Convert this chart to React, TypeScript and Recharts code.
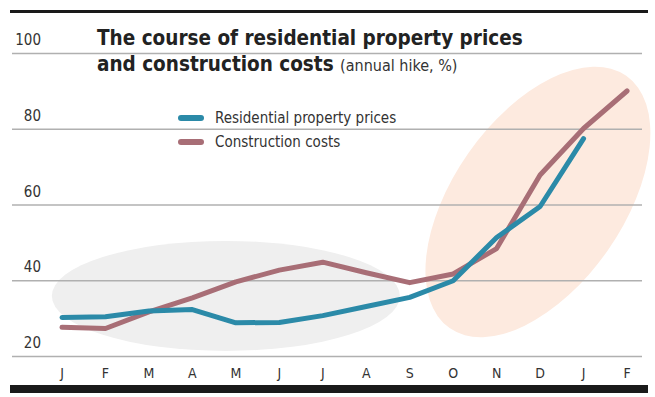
import { LineChart, Line, XAxis, YAxis, ReferenceLine, ReferenceDot } from 'recharts';

const months = ['J', 'F', 'M', 'A', 'M', 'J', 'J', 'A', 'S', 'O', 'N', 'D', 'J', 'F'];
const residential = [30.3, 30.5, 32.0, 32.4, 28.9, 29.0, 30.8, 33.2, 35.6, 40.0, 51.4, 59.6, 77.5, null];
const construction = [27.7, 27.4, 31.8, 35.5, 39.7, 42.8, 44.9, 42.1, 39.5, 41.8, 48.5, 67.9, 80.2, 90.1];
const yTicks = [20, 40, 60, 80, 100];

const series = [
    { key: 'residential', name: 'Residential property prices', color: '#2b8aa8' },
    { key: 'construction', name: 'Construction costs', color: '#a86e76' },
];

const data = months.map((m, i) => ({
    i,
    month: m,
    residential: residential[i],
    construction: construction[i],
}));

const FONT = '"Liberation Sans Narrow", "DejaVu Sans Condensed", "Roboto", sans-serif';

const XTick = ({ x, payload }: any) => (
    <text x={x} y={378} textAnchor="middle" fontSize={14} fill="#333" fontFamily={FONT}>
        {months[payload.value]}
    </text>
);

const YTick = ({ y, payload }: any) => (
    <text x={41} y={y - 8.5} textAnchor="end" fontSize={15} fill="#333" fontFamily={FONT}>
        {payload.value}
    </text>
);

export default function App() {
    return (
        <div style={{ position: 'absolute', left: 0, top: 0, width: 655, height: 397, background: '#fff' }}>
            <div style={{ position: 'absolute', left: 10, top: 10, width: 638, height: 3, background: '#1a1a1a' }} />
            <div style={{ position: 'absolute', left: 10, top: 385, width: 638, height: 8, background: '#1a1a1a' }} />

            <LineChart
                width={655}
                height={397}
                data={data}
                margin={{ top: 53.5, right: 13, left: 11, bottom: 0.5 }}
            >
                <XAxis
                    type="number"
                    dataKey="i"
                    domain={[-1.1505, 13.345]}
                    ticks={months.map((_, i) => i)}
                    allowDataOverflow
                    axisLine={false}
                    tickLine={false}
                    height={40}
                    tick={<XTick />}
                />
                <YAxis
                    type="number"
                    domain={[20, 100]}
                    ticks={yTicks}
                    allowDataOverflow
                    axisLine={false}
                    tickLine={false}
                    width={1}
                    tick={<YTick />}
                />
                {/* highlight ellipses behind everything */}
                <ReferenceDot
                    x={3.77}
                    y={36}
                    r={1}
                    zIndex={-60}
                    shape={(p: any) => <ellipse cx={p.cx} cy={p.cy} rx={174} ry={55} fill="#efefef" />}
                />
                <ReferenceDot
                    x={10.95}
                    y={60.8}
                    r={1}
                    zIndex={-60}
                    shape={(p: any) => (
                        <ellipse
                            cx={p.cx}
                            cy={p.cy}
                            rx={154}
                            ry={85}
                            fill="#fdeadf"
                            transform={`rotate(-55 ${p.cx} ${p.cy})`}
                        />
                    )}
                />
                {yTicks.map((v) => (
                    <ReferenceLine key={v} y={v} stroke="#b0b0b0" strokeWidth={1.5} zIndex={-40} />
                ))}
                <Line
                    dataKey="construction"
                    stroke="#a86e76"
                    strokeWidth={5}
                    dot={false}
                    isAnimationActive={false}
                    strokeLinejoin="round"
                    strokeLinecap="round"
                />
                <Line
                    dataKey="residential"
                    stroke="#2b8aa8"
                    strokeWidth={5}
                    dot={false}
                    isAnimationActive={false}
                    strokeLinejoin="round"
                    strokeLinecap="round"
                />
            </LineChart>

            <div style={{ position: 'absolute', left: 178, top: 106, fontFamily: FONT }}>
                {series.map((s) => (
                    <div key={s.key} style={{ display: 'flex', alignItems: 'center', height: 24 }}>
                        <div style={{ width: 26, height: 6, borderRadius: 3, background: s.color, marginRight: 11 }} />
                        <span style={{ fontSize: 15, color: '#333' }}>{s.name}</span>
                    </div>
                ))}
            </div>

            <div style={{ position: 'absolute', left: 97, top: 25, fontFamily: FONT, color: '#222', lineHeight: '26px' }}>
                <div style={{ fontSize: 20.5, fontWeight: 700 }}>The course of residential property prices</div>
                <div style={{ fontSize: 20.5, fontWeight: 700 }}>
                    and construction costs{' '}
                    <span style={{ fontSize: 16, fontWeight: 400, color: '#333' }}>(annual hike, %)</span>
                </div>
            </div>
        </div>
    );
}
